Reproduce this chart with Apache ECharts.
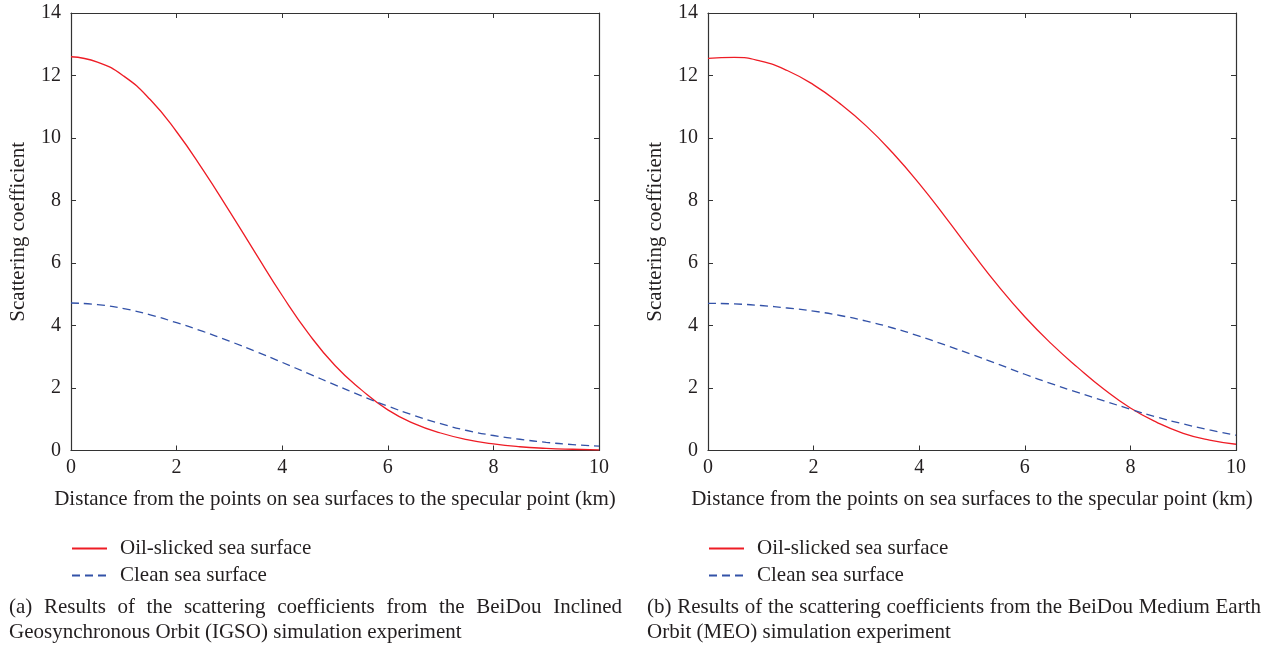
<!DOCTYPE html>
<html>
<head>
<meta charset="utf-8">
<script src="https://cdn.jsdelivr.net/npm/echarts@6/dist/echarts.min.js"></script>
<style>
  html, body { margin: 0; padding: 0; background: #fff; }
  #main { width: 1270px; height: 648px; }
</style>
</head>
<body>
<div id="main"></div>
<script>
// distance from specular point (km)
var distKm = [0, 0.5, 1, 1.5, 2, 2.5, 3, 3.5, 4, 4.5, 5, 5.5, 6, 6.5, 7, 7.5, 8, 8.5, 9, 9.5, 10];

// (a) IGSO
var igsoOil   = [12.60, 12.43, 11.98, 11.23, 10.20, 8.98, 7.66, 6.30, 4.96, 3.74, 2.72, 1.94, 1.30, 0.86, 0.56, 0.35, 0.21, 0.12, 0.07, 0.04, 0.02];
var igsoClean = [4.72, 4.67, 4.54, 4.34, 4.09, 3.81, 3.50, 3.17, 2.82, 2.46, 2.10, 1.75, 1.42, 1.12, 0.86, 0.64, 0.48, 0.36, 0.26, 0.19, 0.14];

// (b) MEO
var meoOil    = [12.55, 12.58, 12.46, 12.16, 11.70, 11.10, 10.38, 9.52, 8.54, 7.46, 6.34, 5.26, 4.28, 3.42, 2.66, 1.96, 1.36, 0.90, 0.55, 0.33, 0.20];
var meoClean  = [4.71, 4.69, 4.64, 4.56, 4.46, 4.32, 4.14, 3.92, 3.66, 3.37, 3.07, 2.76, 2.44, 2.14, 1.86, 1.59, 1.32, 1.07, 0.85, 0.66, 0.49];

var NAME_OIL = "Oil-slicked sea surface";
var NAME_CLEAN = "Clean sea surface";
var X_TITLE = "Distance from the points on sea surfaces to the specular point (km)";
var Y_TITLE = "Scattering coefficient";
var CAPTION_A = ["(a) Results of the scattering coefficients from the BeiDou Inclined",
                 "Geosynchronous Orbit (IGSO) simulation experiment"];
var CAPTION_B = ["(b) Results of the scattering coefficients from the BeiDou Medium Earth",
                 "Orbit (MEO) simulation experiment"];

var FONT = '"Liberation Serif", "DejaVu Serif", serif';
var TXT = "#231f20";
var AXC = "#333333";
var RED = "#ee1c25";
var BLUE = "#3352a8";

function pairs(ys) {
    return distKm.map(function (x, i) { return [x, ys[i]]; });
}

// caption line; justified ones get their words spread over the width
var measureCtx = document.createElement("canvas").getContext("2d");
function captionLine(text, x, y, width, justify) {
    var size = 21;
    if (!justify) {
        return [{type: "text", x: x, y: y, style: {text: text, font: size + "px " + FONT, fill: TXT, verticalAlign: "middle"}}];
    }
    var words = text.split(" ");
    var widths, total;
    // shrink a little if the words do not fit with a normal space
    while (true) {
        measureCtx.font = size + "px " + FONT;
        total = 0;
        widths = words.map(function (w) { var m = measureCtx.measureText(w).width; total += m; return m; });
        if (total + 4 * (words.length - 1) <= width || size < 12) break;
        size -= 0.25;
    }
    var gap = (width - total) / (words.length - 1);
    var out = [], cx = x;
    for (var i = 0; i < words.length; i++) {
        out.push({type: "text", x: cx, y: y, style: {text: words[i], font: size + "px " + FONT, fill: TXT, verticalAlign: "middle"}});
        cx += widths[i] + gap;
    }
    return out;
}

var gridLefts = [71, 708];
var grids = [], xAxes = [], yAxes = [], series = [], legends = [];

for (var g = 0; g < 2; g++) {
    grids.push({left: gridLefts[g], top: 13, width: 528, height: 437.5});
    var line = {show: true, onZero: false, lineStyle: {color: AXC, width: 1.2}};
    var tick = {show: true, inside: true, length: 5, lineStyle: {color: AXC}};
    var lab = {fontFamily: FONT, fontSize: 20, color: TXT};
    // bottom + top x axes
    xAxes.push({
        type: "value", gridIndex: g, min: 0, max: 10, interval: 2, position: "bottom",
        name: X_TITLE, nameLocation: "middle", nameGap: 38,
        nameTextStyle: {fontFamily: FONT, fontSize: 21, color: TXT},
        axisLine: line, axisTick: tick,
        axisLabel: Object.assign({margin: 7.5}, lab),
        splitLine: {show: false}
    });
    xAxes.push({
        type: "value", gridIndex: g, min: 0, max: 10, interval: 2, position: "top",
        axisLine: line, axisTick: tick,
        axisLabel: {show: false}, splitLine: {show: false}
    });
    // left + right y axes
    yAxes.push({
        type: "value", gridIndex: g, min: 0, max: 14, interval: 2, position: "left",
        name: Y_TITLE, nameLocation: "middle", nameGap: 42,
        nameTextStyle: {fontFamily: FONT, fontSize: 21, color: TXT},
        axisLine: line, axisTick: tick,
        axisLabel: Object.assign({margin: 10}, lab),
        splitLine: {show: false}
    });
    yAxes.push({
        type: "value", gridIndex: g, min: 0, max: 14, interval: 2, position: "right",
        axisLine: line, axisTick: tick,
        axisLabel: {show: false}, splitLine: {show: false}
    });

    var oil = g === 0 ? igsoOil : meoOil;
    var clean = g === 0 ? igsoClean : meoClean;
    series.push({
        name: NAME_OIL, type: "line", xAxisIndex: g * 2, yAxisIndex: g * 2,
        data: pairs(oil), smooth: true, symbol: "none",
        lineStyle: {color: RED, width: 1.3}, itemStyle: {color: RED}
    });
    series.push({
        name: NAME_CLEAN, type: "line", xAxisIndex: g * 2, yAxisIndex: g * 2,
        data: pairs(clean), smooth: true, symbol: "none",
        lineStyle: {color: BLUE, width: 1.3, type: [8, 5]}, itemStyle: {color: BLUE}
    });

    legends.push({
        orient: "vertical", left: gridLefts[g] - 5, top: 533,
        itemWidth: 35, itemHeight: 14, itemGap: 6,
        data: [NAME_OIL, NAME_CLEAN],
        selectedMode: false,
        itemStyle: {opacity: 0, borderWidth: 0},
        textStyle: {fontFamily: FONT, fontSize: 21, color: TXT, padding: [0, 0, 0, 8]}
    });
}

var graphics = []
    .concat(captionLine(CAPTION_A[0], 9, 607, 613, true))
    .concat(captionLine(CAPTION_A[1], 9, 632, 0, false))
    .concat(captionLine(CAPTION_B[0], 647, 607, 614, true))
    .concat(captionLine(CAPTION_B[1], 647, 632, 0, false));

var chart = echarts.init(document.getElementById("main"));
chart.setOption({
    animation: false,
    backgroundColor: "#ffffff",
    grid: grids,
    xAxis: xAxes,
    yAxis: yAxes,
    legend: legends,
    series: series,
    graphic: graphics
});
</script>
</body>
</html>
